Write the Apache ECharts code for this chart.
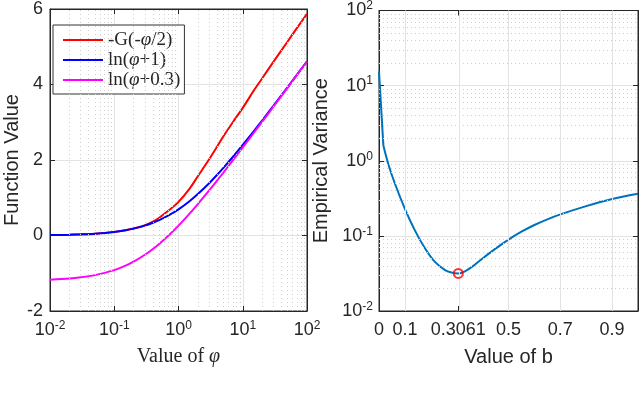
<!DOCTYPE html>
<html>
<head>
<meta charset="utf-8">
<script src="https://cdn.jsdelivr.net/npm/echarts@6/dist/echarts.min.js"></script>
<style>
  html, body { margin: 0; padding: 0; background: #fff; }
  #main { width: 640px; height: 395px; }
</style>
</head>
<body>
<div id="main"></div>
<script>
  // left panel: values
  const phi = [0.01, 0.02, 0.03, 0.05, 0.1, 0.15, 0.2, 0.3, 0.4, 0.5, 0.7, 1, 1.5, 2, 3, 4, 5, 7, 10, 15, 20, 30, 50, 70, 100];
  const negG = [0.01, 0.02, 0.03, 0.049, 0.096, 0.141, 0.185, 0.27, 0.37, 0.47, 0.66, 0.89, 1.25, 1.57, 2.02, 2.36, 2.63, 3.0, 3.38, 3.85, 4.16, 4.6, 5.14, 5.5, 5.87];
  const lnPhi1 = [0.00995, 0.0198, 0.0296, 0.0488, 0.0953, 0.1398, 0.1823, 0.2624, 0.3365, 0.4055, 0.5306, 0.6931, 0.9163, 1.0986, 1.3863, 1.6094, 1.7918, 2.0794, 2.3979, 2.7726, 3.0445, 3.434, 3.9318, 4.2627, 4.6151];
  const lnPhi03 = [-1.1712, -1.1394, -1.1087, -1.0498, -0.9163, -0.7985, -0.6931, -0.5108, -0.3567, -0.2231, 0, 0.2624, 0.5878, 0.8329, 1.1939, 1.4586, 1.6677, 1.9879, 2.3321, 2.7279, 3.0106, 3.4111, 3.918, 4.2528, 4.6082];

  // right panel: steep drop first, then the smooth valley
  const bDrop = [0, 0.017];
  const varDrop = [15.5, 1.58];
  const bVals = [0.017, 0.036, 0.062, 0.1, 0.139, 0.178, 0.216, 0.255, 0.28, 0.3061, 0.33, 0.36, 0.4, 0.45, 0.5, 0.55, 0.6, 0.65, 0.7, 0.8, 0.9, 1.0];
  const variance = [1.58, 0.90, 0.49, 0.229, 0.1175, 0.068, 0.045, 0.035, 0.0325, 0.0316, 0.0335, 0.0389, 0.0501, 0.0676, 0.0891, 0.1135, 0.1396, 0.166, 0.193, 0.249, 0.309, 0.363];
  const bestB = 0.3061;
  const bestVar = 0.0316;
  const bTicks = [0, 0.1, 0.3061, 0.5, 0.7, 0.9];

  const axisColor = '#262626';
  const gridColor = '#e3e3e3';
  const minorColor = '#cfcfcf';
  const sans = 'Liberation Sans';
  const serif = 'Liberation Serif';

  const pairs = (xs, ys) => xs.map((x, i) => [x, ys[i]]);

  const minorLog = [];
  for (let k = -2; k < 2; k++) {
    for (let m = 2; m <= 9; m++) minorLog.push(+(m * Math.pow(10, k)).toPrecision(3));
  }

  const powLabel = v => '{b|10}{s|' + Math.round(Math.log10(v)) + '}';
  const powRich = {
    b: { fontFamily: sans, fontSize: 18, color: axisColor },
    s: { fontFamily: sans, fontSize: 12, color: axisColor, verticalAlign: 'bottom', padding: [0, 0, 9, 0] }
  };

  const dotted = { color: minorColor, type: [1, 3], width: 1 };
  const solid = { color: gridColor, type: 'solid', width: 1 };

  const boxAxis = (extra) => Object.assign({
    axisLine: { show: true, onZero: false, lineStyle: { color: axisColor } },
    axisTick: { show: true, inside: true, length: 5, lineStyle: { color: axisColor } },
    axisLabel: { show: false },
    splitLine: { show: false }
  }, extra);

  var myChart = echarts.init(document.getElementById('main'));
  myChart.setOption({
    animation: false,
    grid: [
      { left: 50, top: 9, width: 257, height: 302, show: true, borderColor: axisColor, borderWidth: 1 },
      { left: 379, top: 9, width: 259, height: 302, show: true, borderColor: axisColor, borderWidth: 1 }
    ],
    legend: {
      orient: 'vertical',
      left: 53,
      top: 25,
      padding: [5, 4, 4, 10],
      icon: 'rect',
      itemWidth: 40,
      itemHeight: 2,
      itemGap: 0,
      backgroundColor: '#fff',
      borderColor: '#333',
      borderWidth: 1,
      data: ['-G(-φ/2)', 'ln(φ+1)', 'ln(φ+0.3)'],
      formatter: function (name) {
        return name.replace('φ', '{i|φ}');
      },
      textStyle: {
        fontFamily: serif,
        fontSize: 19,
        lineHeight: 20,
        color: axisColor,
        rich: { i: { fontFamily: serif, fontStyle: 'italic', fontSize: 19, color: axisColor } }
      }
    },
    xAxis: [
      {
        type: 'log', gridIndex: 0, min: 0.01, max: 100, logBase: 10,
        name: 'Value of {i|φ}', nameLocation: 'middle', nameGap: 36,
        nameTextStyle: {
          fontFamily: serif, fontSize: 20, color: axisColor,
          rich: { i: { fontFamily: serif, fontStyle: 'italic', fontSize: 20, color: axisColor } }
        },
        axisLine: { onZero: false, lineStyle: { color: axisColor } },
        axisTick: { inside: true, length: 5, lineStyle: { color: axisColor } },
        axisLabel: { margin: 9, formatter: powLabel, rich: powRich },
        splitLine: { show: true, lineStyle: solid }
      },
      boxAxis({ type: 'log', gridIndex: 0, min: 0.01, max: 100, position: 'top' }),
      {
        type: 'value', gridIndex: 1, min: 0, max: 1,
        name: 'Value of b', nameLocation: 'middle', nameGap: 36,
        nameTextStyle: { fontFamily: sans, fontSize: 20, color: axisColor },
        axisLine: { onZero: false, lineStyle: { color: axisColor } },
        axisTick: { inside: true, length: 5, lineStyle: { color: axisColor }, customValues: bTicks },
        axisLabel: { margin: 10, fontFamily: sans, fontSize: 18, color: axisColor, customValues: bTicks },
        splitLine: { show: false }
      },
      boxAxis({ type: 'value', gridIndex: 1, min: 0, max: 1, position: 'top',
        axisTick: { show: true, inside: true, length: 5, lineStyle: { color: axisColor }, customValues: bTicks } })
    ],
    yAxis: [
      {
        type: 'value', gridIndex: 0, min: -2, max: 6, interval: 2,
        name: 'Function Value', nameLocation: 'middle', nameGap: 28,
        nameTextStyle: { fontFamily: sans, fontSize: 20, color: axisColor },
        axisLine: { show: true, onZero: false, lineStyle: { color: axisColor } },
        axisTick: { show: true, inside: true, length: 5, lineStyle: { color: axisColor } },
        axisLabel: { margin: 7, fontFamily: sans, fontSize: 18, color: axisColor },
        splitLine: { show: true, lineStyle: solid }
      },
      boxAxis({ type: 'value', gridIndex: 0, min: -2, max: 6, interval: 2, position: 'right' }),
      {
        type: 'log', gridIndex: 1, min: 0.01, max: 100, logBase: 10,
        name: 'Empirical Variance', nameLocation: 'middle', nameGap: 48,
        nameTextStyle: { fontFamily: sans, fontSize: 20, color: axisColor },
        axisLine: { show: true, onZero: false, lineStyle: { color: axisColor } },
        axisTick: { show: true, inside: true, length: 5, lineStyle: { color: axisColor } },
        axisLabel: { margin: 6, formatter: powLabel, rich: powRich },
        splitLine: { show: true, lineStyle: solid }
      },
      boxAxis({ type: 'log', gridIndex: 1, min: 0.01, max: 100, position: 'right' })
    ],
    series: [
      {
        // minor grid of the left panel
        type: 'line', xAxisIndex: 0, yAxisIndex: 0, data: [], z: 1, silent: true,
        markLine: {
          silent: true, symbol: 'none', label: { show: false }, animation: false,
          lineStyle: dotted,
          data: minorLog.map(v => ({ xAxis: v }))
        }
      },
      {
        // grid of the right panel
        type: 'line', xAxisIndex: 2, yAxisIndex: 2, data: [], z: 1, silent: true,
        markLine: {
          silent: true, symbol: 'none', label: { show: false }, animation: false,
          lineStyle: dotted,
          data: minorLog.map(v => ({ yAxis: v }))
            .concat(bTicks.slice(1).map(v => ({ xAxis: v, lineStyle: solid })))
        }
      },
      {
        name: '-G(-φ/2)', type: 'line', xAxisIndex: 0, yAxisIndex: 0,
        data: pairs(phi, negG), smooth: 0.3, symbol: 'none',
        color: '#ff0000', lineStyle: { width: 2 }
      },
      {
        name: 'ln(φ+1)', type: 'line', xAxisIndex: 0, yAxisIndex: 0,
        data: pairs(phi, lnPhi1), smooth: 0.3, symbol: 'none',
        color: '#0000ff', lineStyle: { width: 2 }
      },
      {
        name: 'ln(φ+0.3)', type: 'line', xAxisIndex: 0, yAxisIndex: 0,
        data: pairs(phi, lnPhi03), smooth: 0.3, symbol: 'none',
        color: '#ff00ff', lineStyle: { width: 2 }
      },
      {
        type: 'line', xAxisIndex: 2, yAxisIndex: 2,
        data: pairs(bDrop, varDrop), symbol: 'none',
        color: '#0072bd', lineStyle: { width: 2 }
      },
      {
        type: 'line', xAxisIndex: 2, yAxisIndex: 2,
        data: pairs(bVals, variance), symbol: 'none', smooth: 0.3,
        color: '#0072bd', lineStyle: { width: 2 }
      },
      {
        type: 'scatter', xAxisIndex: 2, yAxisIndex: 2, z: 5,
        data: [[bestB, bestVar]], symbol: 'circle', symbolSize: 9,
        itemStyle: { color: 'rgba(0,0,0,0)', borderColor: '#ff0000', borderWidth: 2 }
      }
    ]
  });
</script>
</body>
</html>
